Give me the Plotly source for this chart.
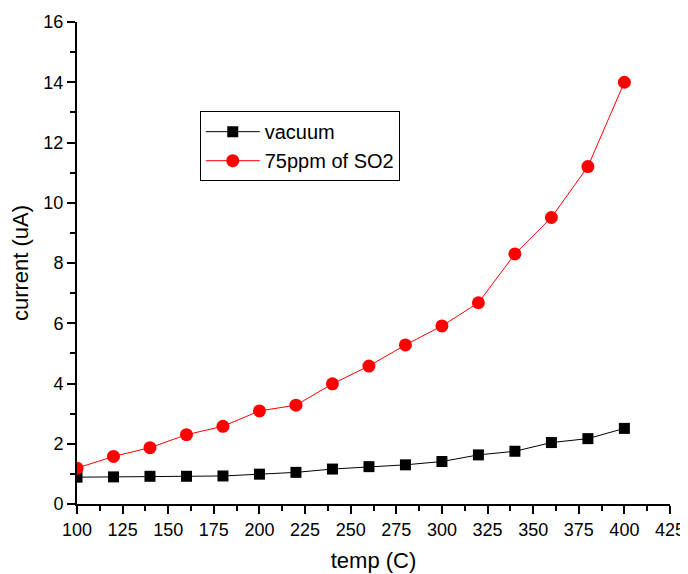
import plotly.graph_objects as go

temp = [100, 120, 140, 160, 180, 200, 220, 240, 260, 280, 300, 320, 340, 360, 380, 400]
vacuum = [0.89, 0.90, 0.92, 0.92, 0.93, 0.99, 1.05, 1.16, 1.24, 1.30, 1.41, 1.63, 1.75, 2.04, 2.17, 2.51]
so2 = [1.19, 1.58, 1.87, 2.30, 2.58, 3.09, 3.28, 3.99, 4.58, 5.28, 5.91, 6.68, 8.30, 9.51, 11.2, 14.0]

FONT = "Liberation Sans, Arial"

fig = go.Figure()
fig.add_trace(go.Scatter(x=temp, y=vacuum, mode="lines+markers", name="vacuum",
                         line=dict(color="black", width=1),
                         marker=dict(symbol="square", size=11, color="black")))
fig.add_trace(go.Scatter(x=temp, y=so2, mode="lines+markers", name="75ppm of SO2",
                         line=dict(color="red", width=1),
                         marker=dict(symbol="circle", size=13, color="red")))

axis_common = dict(showgrid=False, zeroline=False, showline=True, linecolor="black", linewidth=2,
                   ticks="outside", ticklen=8, tickwidth=2, tickcolor="black", automargin=False,
                   tickfont=dict(family=FONT, size=18, color="black"))
fig.update_xaxes(range=[100, 425], dtick=25, tick0=100,
                 minor=dict(ticks="outside", ticklen=5, tickwidth=2, tickcolor="black", dtick=12.5),
                 title=dict(text="temp (C)", font=dict(family=FONT, size=22, color="black"), standoff=14),
                 **axis_common)
fig.update_yaxes(range=[0, 16], dtick=2, tick0=0,
                 minor=dict(ticks="outside", ticklen=5, tickwidth=2, tickcolor="black", dtick=1),
                 title=dict(text="current (uA)", font=dict(family=FONT, size=22, color="black"), standoff=14),
                 **axis_common)
fig.update_layout(width=680, height=566, plot_bgcolor="white", paper_bgcolor="white",
                  margin=dict(l=69, r=18, t=14, b=70, autoexpand=False),
                  legend=dict(x=0.207, y=0.815, xanchor="left", yanchor="top",
                              bordercolor="black", borderwidth=1, bgcolor="white",
                              font=dict(family=FONT, size=20, color="black"),
                              tracegroupgap=0, itemwidth=54))
fig.write_html("out.html")
